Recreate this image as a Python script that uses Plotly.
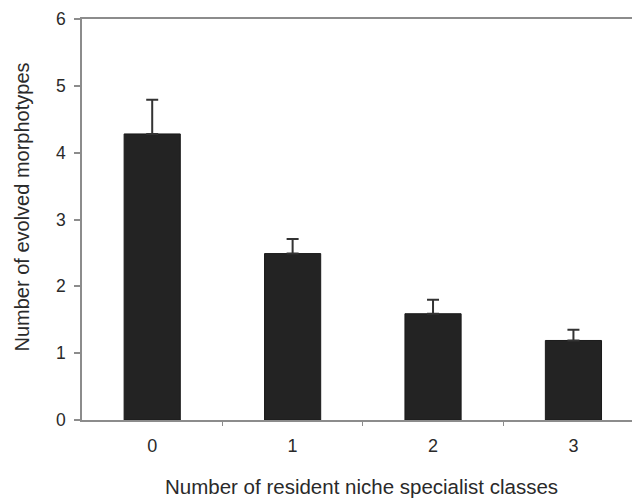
import plotly.graph_objects as go

categories = [0, 1, 2, 3]
tick_labels = ["0", "1", "2", "3"]
means = [4.28, 2.49, 1.59, 1.19]
err_upper = [0.51, 0.22, 0.21, 0.16]
y_ticks = [0, 1, 2, 3, 4, 5, 6]
boundaries = [0.5, 1.5, 2.5]

AX = "#8c8c8c"
TXT = "#2a2a2a"
FONT = "Liberation Sans, Arial, Helvetica, sans-serif"

fig = go.Figure()
fig.add_trace(go.Bar(
    x=categories, y=means, width=0.4,
    marker=dict(color="#232323", line=dict(color="#1a1a1a", width=1)),
    error_y=dict(type="data", array=err_upper, arrayminus=[0]*4, symmetric=False,
                 color="#333333", thickness=2, width=6),
))

fig.update_layout(
    width=632, height=491,
    margin=dict(l=74, r=0, t=11, b=79, autoexpand=False),
    paper_bgcolor="white", plot_bgcolor="white",
    showlegend=False,
    font=dict(family=FONT, color=TXT),
    xaxis=dict(
        range=[-0.5, 3.474], tickvals=categories, ticktext=tick_labels,
        ticks="", showgrid=False, zeroline=False,
        showline=True, linecolor=AX, linewidth=1.5, mirror=True,
        tickfont=dict(size=18, color=TXT), ticklabelstandoff=9,
        minor=dict(tickvals=boundaries, ticks="outside", ticklen=4, tickcolor=AX, tickwidth=1),
    ),
    yaxis=dict(
        range=[0, 6], tickvals=y_ticks, ticks="outside", ticklen=6,
        tickcolor=AX, tickwidth=1.5, showgrid=False, zeroline=False,
        showline=True, linecolor=AX, linewidth=1.5, ticklabeloverflow="allow",
        tickfont=dict(size=17.5, color=TXT), ticklabelstandoff=5,
    ),
    annotations=[
        dict(text="Number of evolved morphotypes", xref="paper", yref="paper",
             x=0, y=0.5, xanchor="center", yanchor="middle", xshift=-61, yshift=12,
             textangle=-90, showarrow=False, font=dict(size=20, color=TXT)),
        dict(text="Number of resident niche specialist classes", xref="paper", yref="paper",
             x=0.5, y=0, xanchor="center", yanchor="middle", yshift=-66,
             showarrow=False, font=dict(size=20.5, color=TXT)),
    ],
)

fig.write_html("out.html")
